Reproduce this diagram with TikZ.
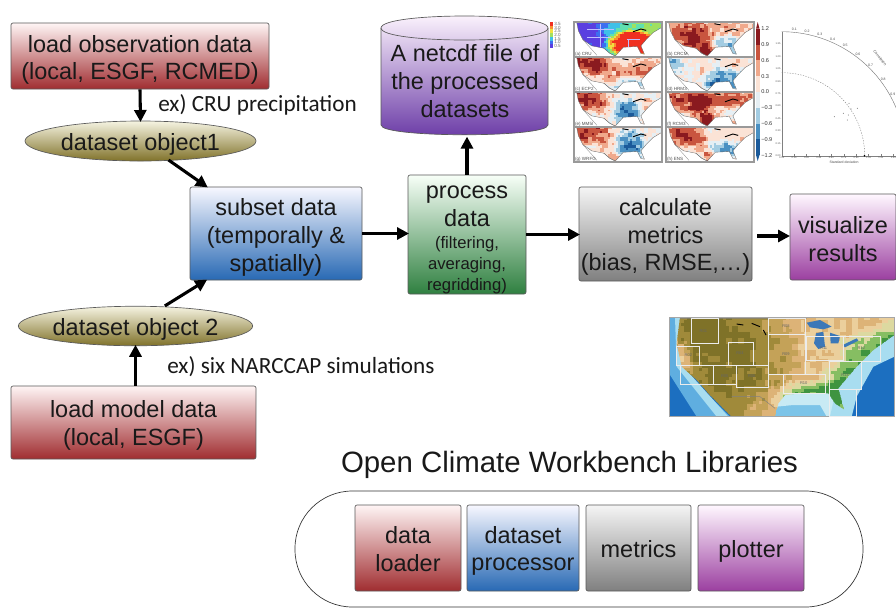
\documentclass[tikz,border=0pt]{standalone}
\usepackage{fontspec}
\setmainfont{Liberation Sans}
\newfontfamily\calib{Carlito}
\usetikzlibrary{arrows.meta,shapes.geometric}
% diverging palette
\definecolor{d0}{HTML}{1B5A9A}\definecolor{d1}{HTML}{4A90C2}\definecolor{d2}{HTML}{A3CCE2}\definecolor{d3}{HTML}{E6EFF4}
\definecolor{d4}{HTML}{FBE3D6}\definecolor{d5}{HTML}{F0A98C}\definecolor{d6}{HTML}{C9553F}\definecolor{d7}{HTML}{8A1A1F}
% rainbow palette
\definecolor{p0}{HTML}{5A3FE0}\definecolor{p1}{HTML}{3C6FF0}\definecolor{p2}{HTML}{3FC0E8}\definecolor{p3}{HTML}{60E0B0}
\definecolor{p4}{HTML}{A0E060}\definecolor{p5}{HTML}{F0E040}\definecolor{p6}{HTML}{F89030}\definecolor{p7}{HTML}{F03020}
% terrain palette
\definecolor{t0}{HTML}{3F9440}\definecolor{t1}{HTML}{86BE62}\definecolor{t2}{HTML}{DCD9A0}\definecolor{t3}{HTML}{EBCF9C}
\definecolor{t4}{HTML}{DDB377}\definecolor{t5}{HTML}{C4A258}\definecolor{t6}{HTML}{A08A3A}\definecolor{t7}{HTML}{7F7228}
% sea palette
\definecolor{s0}{HTML}{1C6FC0}\definecolor{s1}{HTML}{5FAEE0}\definecolor{s2}{HTML}{A8DDF0}\definecolor{s3}{HTML}{7CC4E8}\definecolor{s4}{HTML}{C8EAF4}\definecolor{s5}{HTML}{3C78B8}
\tikzset{
 x=0.75pt,y=-0.75pt,
 boxbase/.style={draw=black!65,line width=0.5pt,rounded corners=1.5pt,align=center,inner sep=0pt,text=black!90!white,font=\fontsize{17.6}{20.8}\selectfont},
 redbox/.style={boxbase,top color=red!4!white,middle color={rgb,255:red,214;green,150;blue,150},bottom color={rgb,255:red,160;green,45;blue,48}},
 bluebox/.style={boxbase,top color=blue!3!white,middle color={rgb,255:red,150;green,190;blue,228},bottom color={rgb,255:red,40;green,105;blue,180}},
 greenbox/.style={boxbase,top color=green!3!white,middle color={rgb,255:red,165;green,210;blue,170},bottom color={rgb,255:red,47;green,128;blue,64}},
 graybox/.style={boxbase,top color=black!4,middle color=black!22,bottom color=black!50},
 purplebox/.style={boxbase,top color=magenta!3!white,middle color={rgb,255:red,220;green,186;blue,222},bottom color={rgb,255:red,155;green,63;blue,160}},
 ell/.style={boxbase,ellipse,top color={rgb,255:red,246;green,244;blue,226},middle color={rgb,255:red,196;green,186;blue,136},bottom color={rgb,255:red,128;green,114;blue,42}},
 conn/.style={line width=2.3pt,-{Triangle[length=9pt,width=9pt]},shorten >=-1pt},
 note/.style={font=\calib\fontsize{17.4}{20}\selectfont,anchor=west,inner sep=0pt,text=black!90!white},
 tinytext/.style={font=\fontsize{3.4}{4}\selectfont,inner sep=0pt,text=black!70},
 wire/.style={draw=white!85!gray,line width=0.55pt},
}
\newcommand{\dn}[1]{\rule{0pt}{\dimexpr 12.8pt+1.5pt*#1\relax}}
\newcommand{\pbox}[7]{\node[#1,minimum width={(#5-#3)*0.75pt},minimum height={(#6-#4)*0.75pt}] (#2) at ({(#3+#5)/2},{(#4+#6)/2}) {#7};}
\newcount\vv \newcount\tmpv \newcount\nxa \newcount\nya
\newcommand\bump[5]{\tmpv=\numexpr 10000-(\ix-#1)*(\ix-#1)*10000/(#3*#3)-(\iy-#2)*(\iy-#2)*10000/(#4*#4)\relax\ifnum\tmpv>0 \advance\vv by \numexpr #5*\tmpv/10000\relax\fi}
\newcommand\addnoise[2]{% seed, amplitude factor
 \nxa=\numexpr\ix/2\relax \nya=\numexpr\iy/2\relax
 \tmpv=\numexpr \nxa*\nxa*7+\nya*\nya*11+\nxa*\nya*13+\nxa*3+\nya*5+#1*17\relax
 \tmpv=\numexpr \tmpv-(\tmpv/41)*41\relax
 \advance\vv by \numexpr \tmpv*#2/10\relax}
\newcommand{\usaoutline}{(0.03,0)--(1,0)--(1,0.15)--(0.9,0.3)--(0.82,0.5)--(0.76,0.68)--(0.8,0.92)--(0.76,0.9)--(0.72,0.7)--(0.56,0.72)--(0.47,0.97)--(0.41,0.9)--(0.34,0.75)--(0.2,0.68)--(0.1,0.5)--(0.05,0.25)--cycle}
\newcommand{\mappanel}[8]{%
\begin{scope}[shift={(#1,#2)},x=66pt,y=-26.25pt]
 \fill[white] (0,0) rectangle (1,1);
 \begin{scope}\clip \usaoutline;
  \foreach \iy in {0,...,17}{\foreach \ix in {0,...,43}{%
    \vv=#6\relax #8\vv=\numexpr\vv*7/10\relax\addnoise{#7}{11}%
    \tmpv=\numexpr(\vv+405)/30-10\relax
    \ifnum\tmpv<0 \tmpv=0 \fi \ifnum\tmpv>7 \tmpv=7 \fi
    \fill[#5\the\tmpv] ({\ix/44},{\iy/18}) rectangle ++(0.0245,0.06);
  }}
 \end{scope}
 \draw[black!45,line width=0.25pt] (0.1,0.5)--(0.26,0.95) (0.34,0.75)--(0.41,0.9)--(0.47,0.97);
 \draw[black!60,line width=0.25pt] \usaoutline;
 \draw[black,line width=0.7pt] (0.67,0.28)--(0.76,0.2)--(0.82,0.24) (0.55,0.05)--(0.62,0.08);
 \draw[black!40,line width=0.8pt] (0,0) rectangle (1,1);
 \node[tinytext,anchor=south west] (#3) at (0.01,1) {#4};
\end{scope}}
\begin{document}
\begin{tikzpicture}
\useasboundingbox (0,0) rectangle (896,608);
\fill[white] (0,0) rectangle (896,608);

% --- workflow blocks
\pbox{redbox}{obs}{11}{23}{269}{89}{\dn{4}load observation data\\(local, ESGF, RCMED)}
\pbox{ell}{dsa}{25}{121}{256}{161}{\dn{3}dataset object1}
\pbox{bluebox}{subset}{190}{187}{362}{280}{\dn{4}subset data\\(temporally \&\\spatially)}
\pbox{ell}{dsb}{22}{307}{249}{345}{\dn{3}dataset object 2}
\pbox{redbox}{model}{11}{386}{256}{459}{\dn{3}load model data\\(local, ESGF)}
\pbox{greenbox}{process}{408}{175}{526}{294}{\dn{3}process\\data\\[-4.2pt]{\fontsize{12.5}{15}\selectfont (filtering,}\\[-5.2pt]{\fontsize{12.5}{15}\selectfont averaging,}\\[-5.2pt]{\fontsize{12.5}{15}\selectfont regridding)}}
\pbox{graybox}{metr}{579}{187}{752}{281}{\dn{3}calculate\\metrics\\(bias, RMSE,…)}
\pbox{purplebox}{vis}{790}{194}{896}{280}{\dn{2}visualize\\results}

% --- cylinder
\shade[top color=magenta!3!white,middle color={rgb,255:red,190;green,165;blue,220},bottom color={rgb,255:red,106;green,58;blue,166}]
  (381,28) .. controls (381,12) and (548,12) .. (548,28) -- (548,125) .. controls (548,138) and (381,138) .. (381,125) -- cycle;
\draw[black!65,line width=0.5pt]
  (381,28) .. controls (381,12) and (548,12) .. (548,28) -- (548,125) .. controls (548,138) and (381,138) .. (381,125) -- cycle;
\draw[black!65,line width=0.5pt] (381,28) .. controls (381,44) and (548,44) .. (548,28);
\node[align=center,inner sep=0pt,minimum width=125pt,minimum height=90pt,text=black!90!white,font=\fontsize{17.6}{20.8}\selectfont] (cyl) at (465,75) {\dn{6}A netcdf file of\\the processed\\datasets};

% --- connectors
\draw[conn] (obs.south) -- (dsa.north);
\draw[conn] ([xshift=21pt,yshift=1pt]dsa.south) -- ([xshift=-52pt]subset.north);
\draw[conn] ([xshift=22pt]dsb.north) -- ([xshift=-52.5pt]subset.south);
\draw[conn] (model.north -| dsb.south) -- (dsb.south);
\draw[conn] (subset.east) -- (process.west |- subset.east);
\draw[conn] (process.east) -- (process.east -| metr.west);
\draw[conn] ([xshift=3.75pt,yshift=-1.5pt]metr.east) -- ([xshift=-0.75pt,yshift=-1.5pt]metr.east -| vis.west);
\draw[conn] (process.north) -- ([yshift=-2pt]process.north |- cyl.south);

\node[note] (noteA) at (158,105) {ex) CRU precipitation};
\node[note] (noteB) at (167,367) {ex) six NARCCAP simulations};

% --- libraries
\node[inner sep=0pt,font=\fontsize{22.05}{26}\selectfont,text=black!90!white] (title) at (569.5,465) {Open Climate Workbench Libraries};
\draw[black!80,line width=0.5pt,rounded corners=43pt] (295,491) rectangle (863,607);
\pbox{redbox}{libA}{355}{505}{461}{591}{\dn{1}data\\loader}
\pbox{bluebox}{libB}{467}{505}{579}{591}{\dn{3}dataset\\processor}
\pbox{graybox}{libC}{586}{505}{691}{591}{\dn{1}metrics}
\pbox{purplebox}{libD}{698}{505}{804}{591}{\dn{3}plotter}

% --- map panels
\mappanel{574}{22}{pa}{(a) CRU}{p}{-155}{1}{\bump{36}{3}{26}{12}{170}\bump{28}{12}{15}{9}{380}}
\begin{scope}[shift={(574,22)},x=66pt,y=-26.25pt]
 \draw[white!75!blue,line width=0.3pt] (0.15,0.2)--(0.45,0.2) (0.15,0.42)--(0.42,0.42) (0.3,0.05)--(0.3,0.7) (0.6,0.5)--(0.75,0.5) (0.62,0.5)--(0.62,0.7);
\end{scope}
\mappanel{666}{22}{pb}{(b) CRCM}{d}{15}{2}{\bump{10}{5}{14}{10}{100}\bump{16}{10}{10}{8}{60}\bump{21}{15}{6}{6}{120}\bump{32}{2}{18}{6}{40}\bump{30}{12}{10}{7}{-90}}
\mappanel{574}{57}{pc}{(c) ECP2}{d}{10}{3}{\bump{6}{2}{12}{8}{120}\bump{16}{6}{10}{9}{70}\bump{34}{6}{14}{8}{80}\bump{28}{14}{10}{5}{-80}}
\mappanel{666}{57}{pd}{(d) HRM3}{d}{-5}{4}{\bump{2}{3}{7}{7}{-60}\bump{18}{8}{5}{8}{40}\bump{34}{3}{8}{5}{30}\bump{28}{11}{13}{7}{-100}\bump{26}{14}{9}{4}{-50}}
\mappanel{574}{92}{pe}{(e) MM5I}{d}{5}{5}{\bump{6}{2}{14}{9}{130}\bump{15}{8}{5}{5}{40}\bump{26}{10}{9}{9}{-125}\bump{36}{7}{6}{5}{30}}
\mappanel{666}{92}{pf}{(f) RCM3}{d}{25}{6}{\bump{8}{3}{16}{8}{90}\bump{17}{9}{7}{9}{90}\bump{30}{3}{20}{6}{80}\bump{21}{15}{5}{5}{130}\bump{33}{10}{6}{4}{-50}}
\mappanel{574}{127}{pg}{(g) WRFG}{d}{5}{7}{\bump{6}{2}{14}{8}{130}\bump{16}{8}{5}{6}{40}\bump{28}{9}{9}{10}{-135}\bump{20}{15}{4}{3}{60}}
\mappanel{666}{127}{ph}{(h) ENS}{d}{10}{8}{\bump{8}{3}{14}{8}{110}\bump{16}{9}{6}{6}{50}\bump{29}{11}{9}{7}{-105}\bump{21}{15}{4}{4}{80}\bump{32}{4}{14}{5}{30}}

% small rainbow colour bar
\foreach \yy/\cc/\tt in {22/p7/3.5,25.7/p6/3.0,29.4/p5/2.5,33.1/p4/2.0,36.8/p2/1.5,40.5/p1/1.0,44.2/p0/0.5}{
  \fill[\cc] (550,\yy) rectangle (553,\yy+3.9);
  \node[tinytext,anchor=west,text=black!60] (sc\tt) at (554,\yy+1.8) {\tt};
}
% diverging colour bar
\fill[d7] (756,28.7) -- (757.7,22) -- (759.5,28.7) -- cycle;
\fill[d0] (756,155) -- (757.7,161) -- (759.5,155) -- cycle;
\foreach \ii/\cc in {0/d7,1/d6,2/d5,3/d4,4/d3,5/d2,6/d1,7/d0}{
  \fill[\cc] (756,{28.7+\ii*15.8}) rectangle (759.5,{28.7+(\ii+1)*15.8});
}
\foreach \ii/\tt in {0/1.2,1/0.9,2/0.6,3/0.3,4/0.0,5/−0.3,6/−0.6,7/−0.9,8/−1.2}{
  \node[tinytext,anchor=west,text=black!80,font=\fontsize{4.2}{5}\selectfont] (cb\ii) at (761,{28.7+\ii*15.8}) {\tt};
}

% Taylor diagram
\draw[black!55,line width=0.3pt] plot[domain=90:22,samples=50] ({781.7+124*cos(\x)},{155.7-124*sin(\x)});
\draw[black!55,line width=0.25pt,dash pattern=on 1pt off 1pt] plot[domain=90:0,samples=50] ({781.7+83*cos(\x)},{155.7-83*sin(\x)});
\draw[black!50,line width=0.3pt] (781.7,31.7) -- (781.7,155.7) -- (896,155.7);
\foreach \rr/\ll in {0/0.00,1/0.15,2/0.30,3/0.45,4/0.60,5/0.75,6/0.90,7/1.05,8/1.20,9/1.35}{
  \draw[black!50,line width=0.2pt] (781.7,{155.7-\rr*12.4}) -- ++(1.5,0);
  \draw[black!50,line width=0.2pt] ({781.7+\rr*12.4},155.7) -- ++(0,-1.5);
  \node[tinytext,font=\fontsize{1.9}{2}\selectfont,anchor=east] (ty\rr) at (780.7,{155.7-\rr*12.4}) {\ll};
  \node[tinytext,font=\fontsize{1.9}{2}\selectfont,anchor=north] (tx\rr) at ({781.7+\rr*12.4},156.7) {\ll};
}
\foreach \cc/\aa in {0.1/84.3,0.2/78.5,0.3/72.5,0.4/66.4,0.5/60,0.6/53.1,0.7/45.6,0.8/36.9,0.9/29}{
  \node[tinytext,font=\fontsize{2.6}{3}\selectfont] (tc\cc) at ({781.7+127*cos(\aa)},{155.7-127*sin(\aa)}) {\cc};
}
\node[tinytext,font=\fontsize{2.8}{3}\selectfont,rotate=-50] (tcl) at (880,58) {Correlation};
\node[tinytext,font=\fontsize{2.6}{3}\selectfont] (tsd) at (844,162) {Standard deviation};
\fill[black] (864.5,155.7) circle (0.9);
\foreach \px/\py in {834.3/116.7,843.3/113.3,848.3/115,847.3/120,849/103.3,851/109,857.3/108.3}{
  \fill[black!60] (\px,\py) circle (0.5);
}

% region map
\begin{scope}[shift={(660,310)},x=0.25pt,y=-0.25pt]
 \fill[s0] (27,22) rectangle (703,320);
 \begin{scope}
  \clip (27,22) rectangle (703,320);
  \fill[s1] (27,22) -- (70,22) -- (70,180) -- (210,320) -- (110,320) -- (27,190) -- cycle;
  \fill[s2] (45,22) -- (70,22) -- (70,170) -- (205,320) -- (170,320) -- (50,170) -- cycle;
  \fill[s3] (340,320) -- (350,250) -- (500,240) -- (560,320) -- cycle;
  \fill[s4] (350,290) -- (360,250) -- (510,245) -- (555,320) -- (500,320) -- (480,285) -- (400,285) -- cycle;
  \fill[s2] (510,320) -- (530,230) -- (610,140) -- (703,75) -- (703,140) -- (640,170) -- (590,260) -- (575,320) -- cycle;
  % land, as a coarse terrain raster
  \begin{scope}
   \clip (60,22) -- (703,22) -- (703,75) -- (640,120) -- (590,170) -- (535,235) -- (552,298) -- (525,280) -- (505,250) -- (420,250) -- (375,255) -- (355,280) -- (345,320) -- (215,320) -- (145,250) -- (110,210) -- (65,170) -- (50,100) -- cycle;
   \foreach \iy in {0,...,33}{\foreach \ix in {0,...,75}{%
     \vv=170\relax
     \bump{18}{12}{27}{34}{200}\bump{9}{3}{12}{10}{50}\bump{45}{26}{14}{6}{-200}\bump{60}{24}{12}{12}{-220}\bump{68}{12}{12}{9}{-170}\bump{74}{5}{8}{6}{-120}\bump{54}{9}{14}{8}{-40}\bump{3}{14}{5}{8}{-150}\bump{30}{30}{7}{6}{-40}%
     \addnoise{3}{18}%
     \tmpv=\numexpr(\vv+45)/60\relax
     \ifnum\tmpv<0 \tmpv=0 \fi \ifnum\tmpv>7 \tmpv=7 \fi
     \fill[t\the\tmpv] ({27+\ix*9},{22+\iy*9}) rectangle ++(9.6,9.6);
   }}
  \end{scope}
  % lakes
  \fill[s5] (440,38) -- (480,30) -- (515,50) -- (490,58) -- (450,52) -- cycle;
  \fill[s5] (468,70) -- (490,65) -- (495,110) -- (475,117) -- (462,100) -- cycle;
  \fill[s5] (510,68) -- (540,78) -- (535,100) -- (512,100) -- cycle;
  \fill[s5] (548,105) -- (590,85) -- (595,92) -- (555,112) -- cycle;
  \draw[black,line width=0.7pt] (230,42)--(250,45) (275,40)--(300,50) (310,60)--(318,75) (380,22)--(390,26);
  \draw[black!50,line width=0.3pt] (60,25)--(440,25) (215,260)--(300,260)--(345,295);
 \end{scope}
 \draw[white!30!gray,line width=0.6pt] (27,22) rectangle (703,320);
 \foreach \a/\b/\c/\d in {93/25/175/100, 50/108/118/165, 62/165/160/222, 205/97/280/165, 160/165/228/222, 228/165/325/232, 325/25/435/72, 325/72/435/192, 438/80/550/152, 370/192/497/250, 507/155/605/238, 550/80/662/155, 507/238/590/320}{
   \draw[wire] (\a,\b) rectangle (\c,\d);
 }
 \foreach \xx/\yy/\ll in {130/62/R01,378/48/R08,378/131/R09,491/115/R11,604/115/R12,85/135/R02,240/130/R04,194/197/R05,275/197/R06,431/220/R10,555/195/R13}{
   \node[tinytext,font=\fontsize{3}{3}\selectfont,text=black!60] (rg\ll) at (\xx,\yy) {\ll};
 }
\end{scope}
\end{tikzpicture}
\end{document}
